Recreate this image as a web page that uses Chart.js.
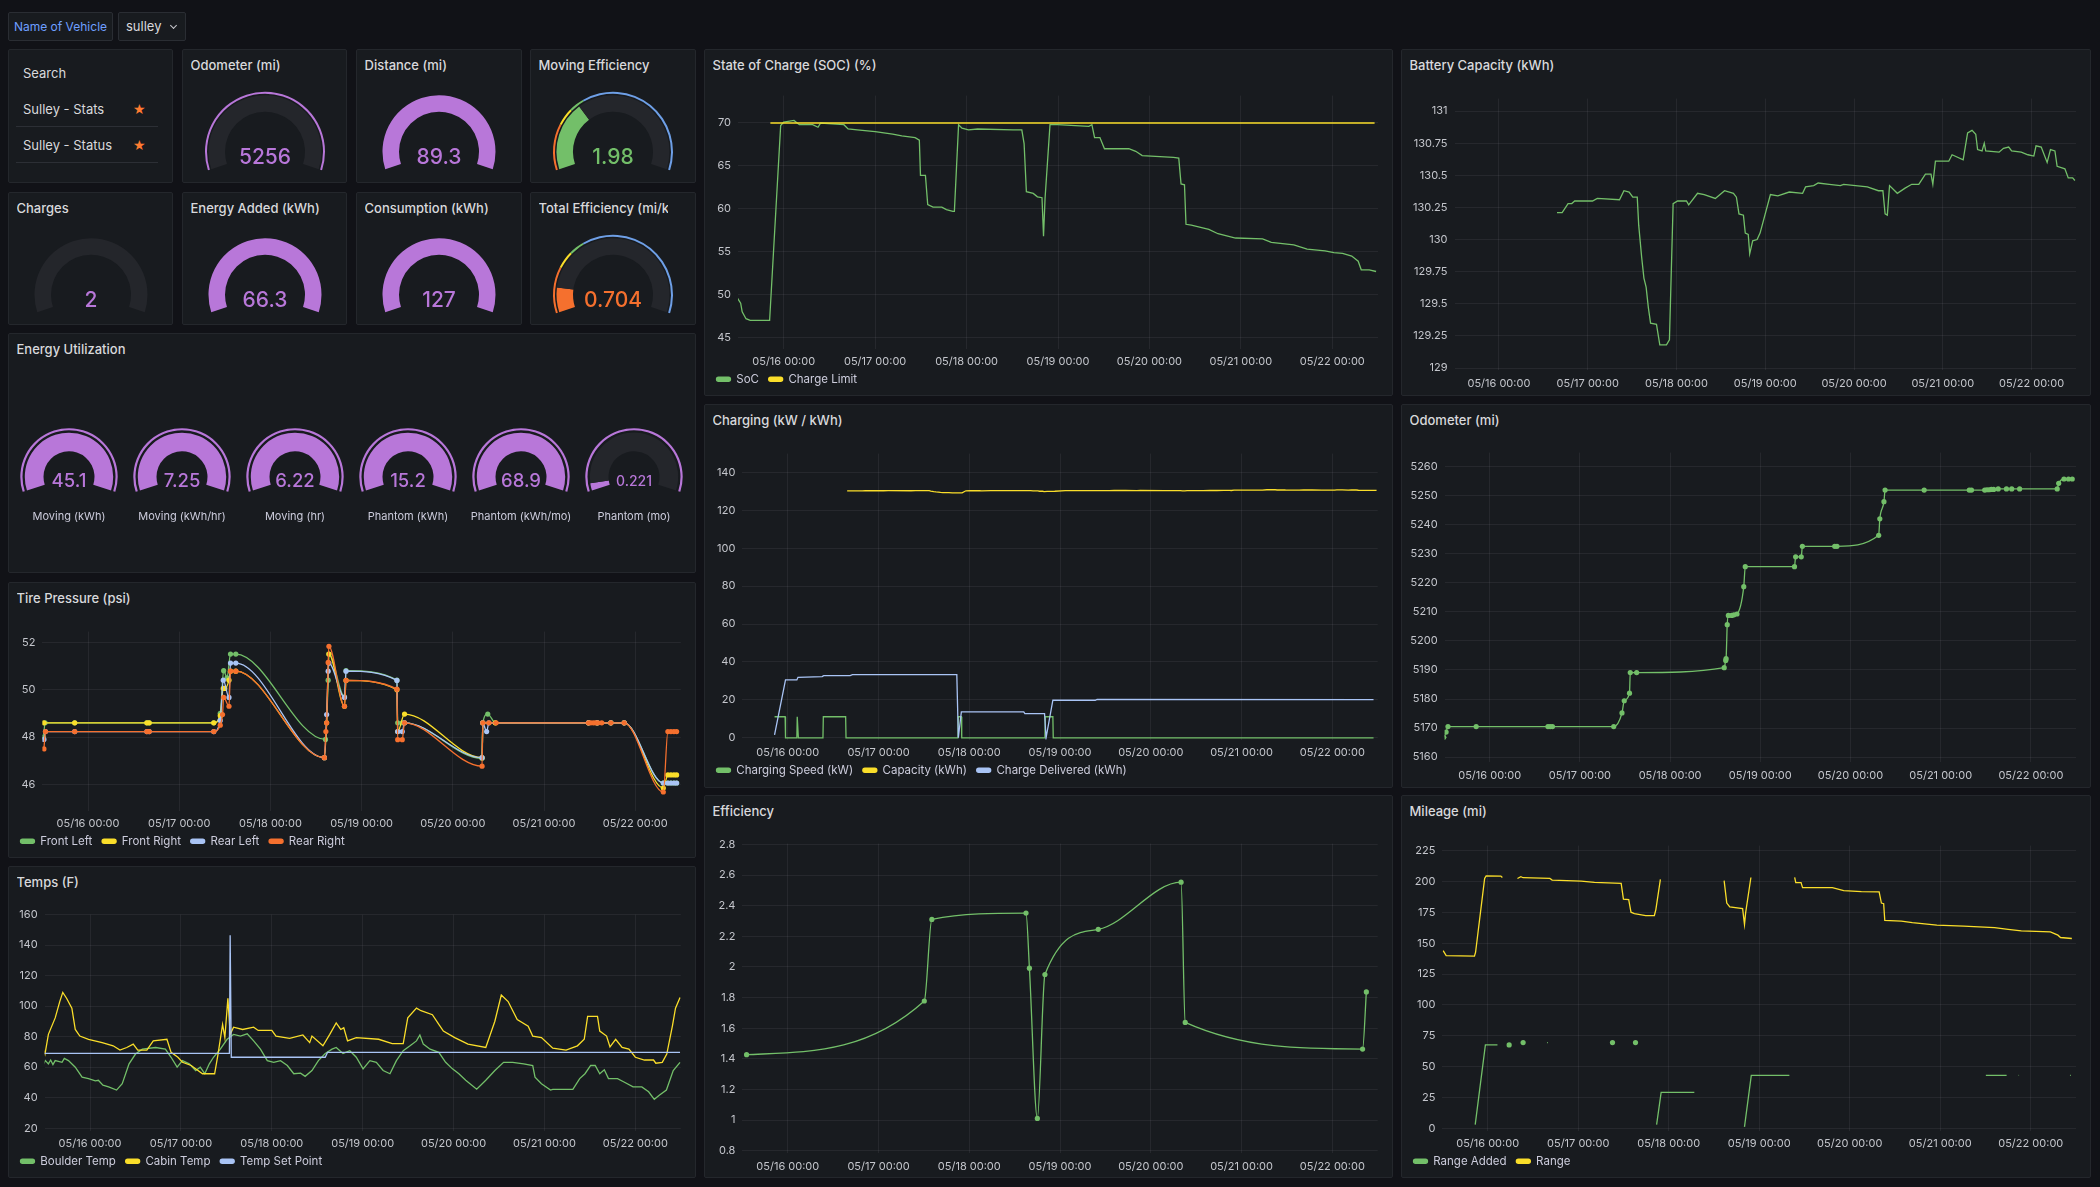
<!DOCTYPE html>
<html>
<head>
<meta charset="utf-8">
<title>Sulley - Stats</title>
<script src="https://cdn.jsdelivr.net/npm/chart.js@4.4.1/dist/chart.umd.min.js"></script>
<style>
html, body { margin: 0; padding: 0; background: #111217; }
#dash { position: relative; width: 2100px; height: 1187px; overflow: hidden; font-family: Inter, "Noto Sans", sans-serif; }
.panel { position: absolute; box-sizing: border-box; background: #181b1f; border: 1px solid #24272c; border-radius: 2px; }
.ptitle { position: absolute; left: 7.5px; top: 7px; font-size: 13px; font-weight: 500; line-height: 16px; color: #d8d9dc; white-space: nowrap; overflow: hidden; }
.ctl { position: absolute; box-sizing: border-box; background: #181b1f; border: 1px solid #2a2d33; border-radius: 2px; line-height: 27px; }
.txt { position: absolute; font-size: 13px; line-height: 16px; color: #d8d9dc; white-space: nowrap; }
.star { position: absolute; color: #ff7b31; font-size: 14px; line-height: 16px; font-family: "DejaVu Sans", sans-serif; }
.rule { position: absolute; height: 1px; background: #2c2f35; }
canvas { position: absolute; }
</style>
</head>
<body>
<div id="dash"></div>
<script>
// ---- time axis ----
const xMin = -12, xMax = 156;            // hours from 05/16 00:00
const dayTicks = [0, 24, 48, 72, 96, 120, 144];
const dayLabels = ["05/16 00:00", "05/17 00:00", "05/18 00:00", "05/19 00:00", "05/20 00:00", "05/21 00:00", "05/22 00:00"];

// ---- stat gauges ----
const statTitles = ["Odometer (mi)", "Distance (mi)", "Moving Efficiency", "Charges", "Energy Added (kWh)", "Consumption (kWh)", "Total Efficiency (mi/kWh)"];
const statValues = [5256, 89.3, 1.98, 2, 66.3, 127, 0.704];
const statMin = [6000, 0, 0, 10, 0, 0, 0];
const statMax = [10000, 89.3, 6, 20, 66.3, 127, 6];
const effThresholds = [0.21, 0.08, 0.07, 0.64];

const energyLabels = ["Moving (kWh)", "Moving (kWh/hr)", "Moving (hr)", "Phantom (kWh)", "Phantom (kWh/mo)", "Phantom (mo)"];
const energyValues = [45.1, 7.25, 6.22, 15.2, 68.9, 0.221];
const energyMax = [45.1, 7.25, 6.22, 15.2, 68.9, 5];

// ---- state of charge ----
const socHours = [-12.3, -11.3, -10.9, -9.9, -8.8, -3.7, -0.8, 0, 2.7, 4.1, 7.6, 9.0, 9.7, 15.8, 16.9, 19.3, 24, 28.6, 31, 34.5, 35.6, 35.9, 37.2, 37.8, 39.2, 41.5, 42.7, 44.4, 44.8, 45.9, 46.8, 48.5, 50.9, 60.2, 62.5, 63.1, 63.7, 65.5, 66.6, 67.8, 68.2, 68.6, 69.9, 71.9, 80.1, 80.9, 81.6, 83, 84.2, 90.6, 92.4, 94.1, 102.3, 103.7, 104.3, 105.2, 105.6, 107, 111.6, 114, 118.6, 125.7, 128, 133.9, 137.4, 142.1, 144.4, 146.7, 149.1, 150.8, 151.6, 153.7, 155.5];
const socValues = [49.7, 49.0, 48.0, 47.2, 47.0, 47.0, 69.7, 70.1, 70.3, 69.8, 69.8, 69.5, 70.0, 69.8, 69.3, 69.2, 69.0, 68.7, 68.5, 68.3, 68.0, 63.9, 63.9, 60.5, 60.2, 60.2, 59.9, 59.7, 59.7, 69.8, 69.4, 69.2, 69.3, 69.2, 69.2, 67.6, 62.0, 61.8, 61.4, 61.3, 56.8, 61.2, 69.8, 69.8, 69.6, 69.8, 68.3, 68.3, 67.0, 67.0, 66.7, 66.2, 66.0, 65.9, 62.9, 62.8, 58.2, 58.1, 57.6, 57.1, 56.6, 56.5, 56.1, 55.8, 55.3, 55.1, 54.9, 54.8, 54.5, 53.9, 52.9, 52.9, 52.7];
const limitHours = [-3.5, 155.1];
const limitValues = [70, 70];
const socTicks = [45, 50, 55, 60, 65, 70];

// ---- battery capacity ----
const battHours = [15.7, 17.1, 18.7, 19.7, 20.5, 25.3, 26.6, 32.6, 33.8, 35.2, 36.2, 37.4, 37.8, 38.6, 39.2, 39.8, 40.4, 41.0, 42.6, 43.5, 45.3, 46.1, 47.1, 48.3, 50.7, 51.3, 53.7, 55.5, 58.5, 61, 63.4, 64.2, 64.9, 66.1, 66.6, 67.4, 67.8, 68.6, 69.8, 70.6, 73.4, 75.4, 78.5, 82.1, 82.9, 85.1, 86.3, 89.3, 92.3, 93.2, 99.6, 102.6, 103.8, 104.4, 105.0, 105.6, 107.7, 109.8, 111.6, 113.5, 115.3, 116.8, 117.3, 118.0, 121.6, 122.5, 125.5, 126.7, 127.9, 128.9, 129.4, 130.6, 131.2, 131.6, 135.2, 136.4, 137.8, 138.6, 141.2, 143, 144.6, 145.2, 146.6, 148.2, 149.1, 150.3, 150.9, 153.0, 153.9, 155.1, 155.7];
const battValues = [130.21, 130.21, 130.28, 130.28, 130.30, 130.30, 130.32, 130.31, 130.38, 130.37, 130.33, 130.33, 130.11, 129.86, 129.70, 129.63, 129.47, 129.35, 129.34, 129.18, 129.18, 129.22, 130.28, 130.30, 130.30, 130.27, 130.36, 130.35, 130.32, 130.38, 130.36, 130.33, 130.20, 130.19, 130.05, 130.04, 129.89, 129.99, 130.00, 130.05, 130.35, 130.34, 130.37, 130.36, 130.41, 130.42, 130.44, 130.43, 130.42, 130.43, 130.41, 130.38, 130.38, 130.20, 130.19, 130.42, 130.36, 130.40, 130.43, 130.43, 130.51, 130.51, 130.43, 130.61, 130.61, 130.66, 130.62, 130.83, 130.85, 130.82, 130.70, 130.69, 130.75, 130.69, 130.68, 130.71, 130.72, 130.69, 130.68, 130.66, 130.65, 130.73, 130.72, 130.60, 130.70, 130.69, 130.57, 130.55, 130.48, 130.48, 130.46];
const battTicks = [129, 129.25, 129.5, 129.75, 130, 130.25, 130.5, 130.75, 131];

// ---- charging ----
const speedHours = [-3.5, -0.7, -0.6, 2.4, 2.5, 2.7, 2.8, 9.3, 9.4, 15.3, 15.4, 45.0, 45.1, 45.9, 46.0, 68.0, 68.1, 70.1, 70.2, 154.9];
const speedValues = [11.1, 11.1, 0, 0, 11.1, 11.1, 0, 0, 11.1, 11.1, 0, 0, 11.1, 11.1, 0, 0, 11.1, 11.1, 0, 0];
const deliveredHours = [-3.5, -0.6, 2.4, 2.7, 9.1, 9.5, 16.5, 17.1, 44.7, 45.1, 45.9, 62.4, 62.7, 67.9, 68.3, 70.1, 81.3, 81.8, 154.9];
const deliveredValues = [1.6, 30.5, 30.5, 31.9, 32.3, 32.8, 32.8, 33.3, 33.3, 0, 13.7, 13.7, 12.8, 12.8, 0, 19.8, 19.8, 20.3, 20.1];
const chargingTicks = [0, 20, 40, 60, 80, 100, 120, 140];

// ---- efficiency ----
const effHours = [-10.9, 36.1, 38.1, 63.0, 63.9, 66.0, 68.0, 82.1, 104.0, 105.1, 152.0, 153.0];
const effValues = [1.427, 1.778, 2.311, 2.352, 1.992, 1.011, 1.951, 2.246, 2.554, 1.638, 1.464, 1.837];
const effTicks = [0.8, 1, 1.2, 1.4, 1.6, 1.8, 2, 2.2, 2.4, 2.6, 2.8];

// ---- odometer ----
const odoHours = [-12.2, -11.6, -11.1, -3.6, 15.5, 16.1, 16.7, 33.0, 35.2, 35.8, 37.2, 37.4, 39.1, 62.4, 62.8, 62.9, 63.2, 63.5, 64.4, 65.0, 65.8, 67.6, 68.0, 81.1, 81.4, 82.9, 83.2, 91.8, 92.4, 103.5, 103.8, 104.9, 105.2, 115.6, 127.6, 128.2, 131.7, 132.3, 132.9, 133.5, 134.1, 135.3, 137.5, 138.9, 141.0, 151.0, 151.4, 152.8, 154.0, 155.0];
const odoValues = [5166.8, 5168.6, 5170.5, 5170.5, 5170.5, 5170.5, 5170.5, 5170.5, 5175.2, 5179.4, 5182.0, 5189.1, 5189.1, 5190.8, 5193.3, 5193.9, 5205.6, 5208.8, 5208.8, 5209.0, 5209.3, 5218.7, 5225.6, 5225.6, 5229.0, 5229.0, 5232.6, 5232.6, 5232.6, 5236.4, 5242.1, 5248.0, 5252.0, 5252.0, 5252.0, 5252.0, 5252.0, 5252.1, 5252.1, 5252.2, 5252.2, 5252.4, 5252.4, 5252.4, 5252.4, 5252.4, 5254.3, 5255.8, 5255.8, 5255.8];
const odoTicks = [5160, 5170, 5180, 5190, 5200, 5210, 5220, 5230, 5240, 5250, 5260];

// ---- mileage ----
const rangeHours = [-11.8, -11.0, -3.5, -3.2, -0.8, -0.4, 3.5, 3.9, 5.9, 7.9, 8.8, 9.4, 16.5, 17.1, 24.8, 28.3, 35.4, 36.0, 37.4, 38.0, 38.9, 41.9, 44.2, 44.6, 45.8, 54, 62.7, 63.4, 64.2, 67.6, 68.1, 68.4, 69.8, 75, 81.4, 81.7, 83.1, 83.5, 91.4, 94.4, 99.1, 103.8, 104.4, 105.0, 105.3, 109.7, 112.6, 119.1, 126.2, 134.4, 138.0, 141.5, 149.2, 151.2, 151.9, 154.9];
const rangeValues = [144.0, 140.0, 139.5, 142.7, 202.4, 204.5, 204.3, 203.2, null, 202.4, 203.8, 203.0, 202.4, 201.1, 200.3, 199.2, 198.4, 185.7, 185.2, 175.1, 174.0, 172.4, 172.4, 177.2, 201.6, null, 200.6, 182.5, 179.3, 178.0, 165.2, 174.5, 203.2, null, 203.2, 199.0, 199.0, 195.0, 195.0, 192.6, 191.8, 191.5, 182.5, 182.0, 168.4, 167.9, 166.6, 164.7, 163.9, 162.6, 161.2, 159.9, 159.1, 156.5, 154.6, 153.8];
const addedHours = [-3.3, -0.6, 0, 2.6, 4, 5.7, 7, 9.4, 12, 15.8, 16.0, 20, 33.1, 36, 39.2, 42, 44.8, 46.0, 54.8, 60, 68.1, 69.9, 80.0, 100, 132.1, 137.6, 139, 140.8, 140.9, 148, 154.4, 154.6];
const addedValues = [3.2, 67.7, 67.7, 67.7, null, 67.7, null, 69.6, null, 69.6, 69.6, null, 69.6, null, 69.6, null, 3.2, 29.2, 29.2, null, 1.3, 43.0, 43.0, null, 43.0, 43.0, null, 43.0, 43.0, null, 43.0, 43.0];
const mileageTicks = [0, 25, 50, 75, 100, 125, 150, 175, 200, 225];

// ---- tire pressure ----
const flHours = [-11.7, -11.3, -3.5, 15.5, 16.1, 33.1, 34.8, 35.7, 36.6, 37.5, 38.9, 62.5, 63.2, 63.4, 67.5, 67.9, 81.3, 81.5, 82.7, 83.3, 103.7, 103.9, 105.2, 107.2, 131.7, 134.0, 137.6, 141.1, 151.4, 152.6, 153.4, 154.2, 154.9];
const flValues = [48.0, 48.6, 48.6, 48.6, 48.6, 48.6, 49.0, 50.8, 50.5, 51.5, 51.5, 47.9, 50.4, 51.5, 49.7, 50.8, 50.4, 48.6, 48.6, 48.6, 47.1, 48.6, 48.97, 48.6, 48.6, 48.6, 48.6, 48.6, 46.06, 46.06, 46.06, 46.06, 46.06];
const frHours = [-11.6, -3.5, 15.5, 16.1, 33.1, 34.8, 35.6, 36.0, 37.1, 37.5, 38.9, 62.2, 62.8, 63.4, 67.5, 67.9, 81.3, 81.5, 83.3, 103.7, 103.9, 107.2, 131.7, 134.0, 137.6, 141.1, 151.4, 152.6, 153.4, 154.2, 154.9];
const frValues = [48.6, 48.6, 48.6, 48.6, 48.6, 48.9, 50.05, 50.05, 50.4, 50.78, 50.78, 47.13, 48.6, 51.5, 49.3, 50.39, 50.0, 48.23, 48.97, 47.13, 48.6, 48.6, 48.6, 48.6, 48.6, 48.6, 45.85, 46.4, 46.4, 46.4, 46.4];
const rlHours = [-11.6, -11.2, -3.5, 15.5, 16.1, 33.1, 34.8, 35.6, 37.1, 37.5, 38.9, 62.2, 62.8, 63.2, 63.4, 67.5, 67.9, 81.3, 81.5, 82.7, 83.3, 103.7, 103.9, 104.9, 105.5, 131.7, 134.0, 137.6, 141.1, 151.4, 152.6, 153.4, 154.2, 154.9];
const rlValues = [47.9, 48.23, 48.23, 48.23, 48.23, 48.23, 48.7, 50.4, 49.67, 51.12, 51.12, 47.13, 48.95, 50.78, 51.12, 49.67, 50.78, 50.39, 48.23, 48.23, 48.6, 47.13, 48.6, 48.23, 48.6, 48.6, 48.6, 48.6, 48.6, 46.06, 46.06, 46.06, 46.06, 46.06];
const rrHours = [-11.6, -11.2, -3.5, 15.5, 16.1, 33.1, 34.8, 35.4, 35.7, 37.1, 37.5, 38.9, 62.2, 62.6, 62.8, 63.2, 63.4, 67.5, 67.9, 81.3, 81.5, 82.7, 83.3, 103.7, 103.9, 105.5, 107.4, 131.7, 132.3, 133.0, 133.6, 134.2, 135.2, 137.6, 141.1, 151.4, 152.6, 153.4, 154.2, 154.9];
const rrValues = [47.5, 48.23, 48.23, 48.23, 48.23, 48.23, 48.5, 48.95, 49.67, 49.3, 50.78, 50.78, 47.13, 48.23, 48.6, 51.15, 51.83, 49.3, 50.39, 50.02, 47.89, 47.89, 48.6, 46.77, 48.6, 48.6, 48.6, 48.6, 48.6, 48.6, 48.6, 48.6, 48.6, 48.6, 48.6, 45.68, 48.23, 48.23, 48.23, 48.23];
const tireTicks = [46, 48, 50, 52];

// ---- temps ----
const boulderHours = [-12.5, -11.8, -11.0, -10.4, -9.8, -9.2, -7.4, -6.8, -5.7, -3.9, -2.1, -0.4, 1.4, 2.2, 3.4, 4.9, 7.0, 8.5, 10.3, 12.0, 13.8, 17.3, 19.9, 21.4, 23.0, 24.4, 26.2, 27.9, 29.1, 30.3, 31.5, 32.6, 34.4, 36.2, 37.9, 39.7, 41.5, 43.2, 45.0, 46.8, 48.5, 50.3, 52.1, 53.8, 55.6, 56.8, 58.6, 60.3, 62.1, 63.9, 65.0, 66.8, 68.6, 70.3, 72.1, 73.9, 75.6, 77.4, 79.2, 80.9, 82.7, 84.5, 86.2, 87.1, 88.0, 89.8, 92.1, 93.9, 95.7, 97.4, 99.2, 102.1, 104.5, 106.9, 109.2, 111.6, 114.5, 116.9, 117.5, 119.2, 121.6, 122.2, 127.5, 129.3, 130.7, 132.2, 133.4, 134.6, 135.8, 136.9, 139.3, 141.0, 143.4, 145.7, 147.5, 149.0, 150.4, 152.2, 154.0, 155.8];
const boulderValues = [61.1, 64.3, 62.2, 64.7, 61.7, 64.3, 63.2, 65.8, 64.3, 60.0, 53.5, 52.5, 51.0, 51.4, 48.2, 47.1, 45.0, 49.2, 62.2, 68.6, 71.8, 72.9, 71.8, 66.5, 60.0, 64.3, 62.2, 57.8, 60.0, 55.7, 62.2, 66.5, 71.8, 78.3, 81.5, 80.4, 81.9, 77.2, 71.8, 64.3, 63.2, 64.3, 61.1, 55.7, 56.1, 54.0, 57.8, 64.3, 69.0, 71.8, 72.9, 69.0, 70.8, 66.5, 58.9, 64.3, 63.2, 57.8, 55.7, 64.3, 70.8, 74.0, 77.2, 81.1, 75.1, 71.8, 69.7, 63.2, 58.9, 55.7, 51.4, 45.6, 51.4, 57.8, 63.2, 63.2, 62.2, 61.1, 53.5, 49.2, 45.0, 45.4, 45.4, 52.5, 55.7, 61.1, 61.1, 55.7, 58.3, 52.5, 52.5, 50.3, 47.1, 47.1, 43.9, 38.9, 41.7, 45.0, 57.8, 63.2];
const cabinHours = [-12.5, -11.9, -11.0, -9.2, -8.0, -7.2, -6.2, -4.8, -3.9, -2.7, -0.4, 3.2, 6.1, 7.9, 9.7, 11.4, 12.6, 15.0, 16.7, 20.3, 21.4, 23.2, 24.4, 26.7, 29.7, 31.5, 32.9, 33.8, 35.0, 35.6, 36.4, 37.0, 37.9, 40.3, 43.2, 44.4, 48.0, 49.1, 52.7, 56.2, 58.0, 58.6, 61.5, 63.3, 65.0, 66.2, 67.0, 68.0, 70.3, 76.2, 79.8, 82.7, 83.9, 86.2, 87.4, 90.4, 92.1, 93.3, 96.3, 99.8, 104.5, 106.9, 108.6, 110.4, 112.8, 115.7, 116.9, 119.2, 122.2, 125.7, 128.7, 130.5, 131.4, 134.0, 134.6, 136.4, 137.3, 138.8, 140.5, 142.3, 144.0, 146.4, 148.8, 149.4, 151.1, 152.3, 153.8, 154.6, 155.8];
const cabinValues = [72.9, 68.6, 81.5, 92.3, 103.0, 109.0, 105.2, 98.7, 84.7, 80.4, 78.3, 76.1, 74.0, 71.2, 72.9, 75.1, 71.2, 71.2, 77.2, 78.3, 69.7, 66.5, 63.2, 61.1, 55.7, 55.7, 55.7, 68.6, 88.0, 79.4, 105.2, 81.5, 86.2, 84.7, 86.2, 84.1, 84.1, 80.4, 78.9, 81.1, 76.1, 80.4, 74.0, 81.5, 89.0, 84.7, 85.8, 77.2, 79.4, 78.3, 75.5, 75.5, 92.3, 98.7, 97.0, 94.4, 88.0, 83.7, 79.4, 75.1, 72.9, 90.1, 107.3, 103.0, 91.2, 86.9, 80.4, 79.4, 72.5, 71.2, 74.0, 78.3, 93.3, 93.3, 83.7, 80.4, 73.3, 78.3, 72.9, 71.8, 66.5, 64.7, 64.7, 62.6, 63.2, 68.6, 87.3, 98.7, 105.6];
const setHours = [-12.1, 36.8, 37.0, 37.3, 62.1, 62.7, 155.8];
const setValues = [69.0, 69.0, 146.5, 66.5, 66.5, 69.7, 69.7];
const tempTicks = [20, 40, 60, 80, 100, 120, 140, 160];

// ---- look ----
const GREEN = "#73bf69", YELLOW = "#fade2a", LBLUE = "#a9c4f5", ORANGE = "#f5702e", PURPLE = "#b877d9", BLUE = "#6e9fe6";
const TRACK = "#24262b", GRID = "rgba(204,204,220,0.08)";

Chart.defaults.font.family = "Inter, 'Noto Sans', sans-serif";
Chart.defaults.font.size = 11;
Chart.defaults.color = "#c4c6cc";
Chart.defaults.animation = false;
Chart.defaults.responsive = false;
Chart.defaults.events = [];

const dash = document.getElementById("dash");

function el(cls, x, y, w, h, parent) {
    const d = document.createElement("div");
    d.className = cls;
    d.style.left = x + "px";
    d.style.top = y + "px";
    if (w != null) d.style.width = w + "px";
    if (h != null) d.style.height = h + "px";
    (parent || dash).appendChild(d);
    return d;
}

function panel(rect, title, clip) {
    const [x, y, w, h] = rect;
    const p = el("panel", x, y, w, h);
    if (title) {
        const t = el("ptitle", 7.5, 7, w - (clip || 26), null, p);
        t.textContent = title;
    }
    return p;
}

function canvasAt(x, y, w, h) {
    const c = document.createElement("canvas");
    c.width = w;
    c.height = h;
    c.style.left = x + "px";
    c.style.top = y + "px";
    dash.appendChild(c);
    return c;
}

function series(label, hours, values, color, extra) {
    return Object.assign({
        label: label,
        data: hours.map((h, i) => ({ x: h, y: values[i] })),
        borderColor: color,
        backgroundColor: color,
        borderWidth: 1.3,
        pointRadius: 0,
        pointBorderWidth: 0,
        tension: 0,
        fill: false
    }, extra || {});
}

const legendItems = chart => Chart.defaults.plugins.legend.labels.generateLabels(chart)
    .map(l => Object.assign(l, { text: l.text + "\u2002" }));

function timeChart(rect, plot, yRange, yTicks, datasets, withLegend) {
    const [px, py, pw, ph] = rect;
    const [pl, pr, pt, pb] = plot;
    const left = px + 1, width = pw - 2;
    const top = Math.round(pt) - 10;
    const height = Math.round(pb) - top + 21 + (withLegend ? 25 : 0);
    const yWidth = pl - left - 7.5;
    new Chart(canvasAt(left, top, width, height), {
        type: "line",
        data: { datasets: datasets },
        options: {
            layout: { padding: { left: 7.5, top: 10, right: left + width - pr, bottom: 0 } },
            scales: {
                x: {
                    type: "linear", min: xMin, max: xMax,
                    afterBuildTicks: s => { s.ticks = dayTicks.map(v => ({ value: v })); },
                    afterFit: s => { s.height = 21; },
                    ticks: { autoSkip: false, maxRotation: 0, padding: 7, callback: (v, i) => dayLabels[i] },
                    grid: { color: GRID, drawTicks: false },
                    border: { display: false }
                },
                y: {
                    min: yRange[0], max: yRange[1],
                    afterBuildTicks: s => { s.ticks = yTicks.map(v => ({ value: v })); },
                    afterFit: s => { s.width = yWidth; },
                    ticks: { padding: 7, callback: v => String(v) },
                    grid: { color: GRID, drawTicks: false },
                    border: { display: false }
                }
            },
            plugins: {
                tooltip: { enabled: false },
                legend: withLegend ? {
                    position: "bottom", align: "start",
                    labels: {
                        boxWidth: 14, boxHeight: 4, padding: 4, color: "#ccccdc",
                        font: { size: 11.5 }, useBorderRadius: true, borderRadius: 2,
                        generateLabels: legendItems,
                        sort: (a, b) => a.datasetIndex - b.datasetIndex
                    }
                } : { display: false }
            }
        }
    });
}

// text in the middle of a gauge
const gaugeText = {
    id: "gaugeText",
    afterDraw(chart, args, o) {
        const arc = chart.getDatasetMeta(0).data[0];
        const ctx = chart.ctx;
        ctx.save();
        ctx.textAlign = "center";
        ctx.textBaseline = "middle";
        ctx.font = "500 " + o.size + "px Inter";
        ctx.fillStyle = o.color;
        ctx.fillText(o.text, arc.x, arc.y + o.dy);
        if (o.label) {
            ctx.font = "11px Inter";
            ctx.fillStyle = "#ccccdc";
            ctx.fillText(o.label, arc.x, arc.y + 40);
        }
        ctx.restore();
    }
};

const ARC = 216;
function gauge(g) {
    const W = Math.ceil(2 * g.r + 4);
    const left = Math.round(g.cx - W / 2);
    const top = Math.round(g.cy - g.H / 2 - 0.3455 * g.r);
    const band = g.r - g.ringW - g.gapW - g.inner;
    const fill = Math.max(0, Math.min(1, (g.value - g.min) / (g.max - g.min)));
    new Chart(canvasAt(left, top, W, g.H), {
        type: "doughnut",
        data: {
            datasets: [
                { data: g.ringData, backgroundColor: g.ringColors, weight: g.ringW, borderWidth: 0 },
                { data: [1], backgroundColor: ["rgba(0,0,0,0)"], weight: g.gapW, borderWidth: 0 },
                { data: [fill, 1 - fill], backgroundColor: [g.color, TRACK], weight: band, borderWidth: 0 }
            ]
        },
        options: {
            rotation: -ARC / 2,
            circumference: ARC,
            radius: g.r,
            cutout: (g.inner / g.r * 100) + "%",
            plugins: {
                legend: { display: false },
                tooltip: { enabled: false },
                gaugeText: { text: String(g.value), color: g.textColor || g.color, size: g.size, dy: g.dy, label: g.label }
            }
        },
        plugins: [gaugeText]
    });
}

// ---- header ----
const name = el("ctl", 8, 12, 105, 29);
name.style.color = "#6e9fff";
name.style.fontSize = "12px";
name.style.textAlign = "center";
name.textContent = "Name of Vehicle";
const pick = el("ctl", 118, 12, 68, 29);
pick.style.color = "#d8d9dc";
pick.style.fontSize = "13px";
pick.style.paddingLeft = "7px";
pick.textContent = "sulley";
const chev = el("", 52, 10, 4, 4, pick);
chev.style.position = "absolute";
chev.style.borderRight = "1.3px solid #c8c9cf";
chev.style.borderBottom = "1.3px solid #c8c9cf";
chev.style.transform = "rotate(45deg)";

// ---- layout ----
const P = {
    search: [8, 49, 165, 134], odoStat: [182, 49, 165, 134], distStat: [356, 49, 166, 134], moveEff: [530, 49, 166, 134],
    charges: [8, 192, 165, 133], added: [182, 192, 165, 133], consumption: [356, 192, 166, 133], totalEff: [530, 192, 166, 133],
    energy: [8, 333, 688, 240], tire: [8, 582, 688, 276], temps: [8, 866, 688, 312],
    soc: [704, 49, 689, 347], charging: [704, 404, 689, 384], efficiency: [704, 795, 689, 383],
    battery: [1401, 49, 690, 347], odometer: [1401, 404, 690, 384], mileage: [1401, 795, 690, 383]
};

// search panel
const sp = panel(P.search, null);
el("txt", 14, 15, null, null, sp).textContent = "Search";
el("txt", 14, 51, null, null, sp).textContent = "Sulley - Stats";
el("star", 124, 51, null, null, sp).textContent = "\u2605";
el("rule", 7, 76, 142, null, sp);
el("txt", 14, 87, null, null, sp).textContent = "Sulley - Status";
el("star", 124, 87, null, null, sp).textContent = "\u2605";
el("rule", 7, 112, 142, null, sp);

// stat gauges
const statRects = [P.odoStat, P.distStat, P.moveEff, P.charges, P.added, P.consumption, P.totalEff];
const none = "rgba(0,0,0,0)";
const effRing = [ORANGE, YELLOW, GREEN, BLUE];
statRects.forEach((r, i) => {
    panel(r, statTitles[i], i === 6 ? 37 : 26);
    const isEff = i === 2 || i === 6;
    const ringed = i === 0 || isEff;
    const color = i === 2 ? GREEN : (i === 6 ? ORANGE : PURPLE);
    gauge({
        cx: r[0] + r[2] / 2, cy: i < 3 ? 151.5 : 294.5, r: 60, inner: 40, ringW: 2, gapW: 1.5, H: 84,
        ringData: isEff ? effThresholds : [1], ringColors: isEff ? effRing : [ringed ? PURPLE : none],
        value: statValues[i], min: statMin[i], max: statMax[i], color: color, size: 21, dy: 6
    });
});

// energy utilization
panel(P.energy, "Energy Utilization");
const energyX = [69, 181.7, 294.6, 408, 521.4, 634];
energyValues.forEach((v, i) => {
    gauge({
        cx: energyX[i], cy: 477, r: 48.7, inner: 25.5, ringW: 2.2, gapW: 2.3, H: 130,
        ringData: [1], ringColors: [PURPLE],
        value: v, min: 0, max: energyMax[i], color: PURPLE, size: i === 5 ? 14 : 18.5, dy: 5,
        label: energyLabels[i]
    });
});

// time series panels
const smooth = { cubicInterpolationMode: "monotone", pointRadius: 2.6 };

panel(P.tire, "Tire Pressure (psi)");
timeChart(P.tire, [42.4, 680.8, 628.3, 811.3], [44.9, 52.45], tireTicks, [
    series("Front Left", flHours, flValues, GREEN, Object.assign({ order: 4 }, smooth)),
    series("Front Right", frHours, frValues, YELLOW, Object.assign({ order: 3 }, smooth)),
    series("Rear Left", rlHours, rlValues, LBLUE, Object.assign({ order: 2 }, smooth)),
    series("Rear Right", rrHours, rrValues, ORANGE, Object.assign({ order: 1 }, smooth))
], true);

panel(P.temps, "Temps (F)");
timeChart(P.temps, [44.6, 680.8, 910.7, 1131], [18.5, 160], tempTicks, [
    series("Boulder Temp", boulderHours, boulderValues, GREEN, { order: 3 }),
    series("Cabin Temp", cabinHours, cabinValues, YELLOW, { order: 2 }),
    series("Temp Set Point", setHours, setValues, LBLUE, { order: 1 })
], true);

panel(P.soc, "State of Charge (SOC) (%)");
timeChart(P.soc, [738, 1378, 92, 348.7], [43.73, 73.19], socTicks, [
    series("SoC", socHours, socValues, GREEN, { order: 2 }),
    series("Charge Limit", limitHours, limitValues, YELLOW, { order: 1 })
], true);

panel(P.charging, "Charging (kW / kWh)");
timeChart(P.charging, [742.4, 1377.7, 450, 739.7], [-0.9, 149.9], chargingTicks, [
    series("Charging Speed (kW)", speedHours, speedValues, GREEN, { order: 3 }),
    series("Capacity (kWh)", battHours, battValues, YELLOW, { order: 2 }),
    series("Charge Delivered (kWh)", deliveredHours, deliveredValues, LBLUE, { order: 1 })
], true);

panel(P.efficiency, "Efficiency");
timeChart(P.efficiency, [742.4, 1377.7, 840, 1152.7], [0.785, 2.806], effTicks, [
    series("Efficiency", effHours, effValues, GREEN, smooth)
], false);

panel(P.battery, "Battery Capacity (kWh)");
timeChart(P.battery, [1454.5, 2076, 95, 370.3], [128.985, 131.097], battTicks, [
    series("Battery Capacity", battHours, battValues, GREEN)
], false);

panel(P.odometer, "Odometer (mi)");
timeChart(P.odometer, [1444.6, 2076, 449, 761.7], [5158.3, 5264.9], odoTicks, [
    series("Odometer", odoHours, odoValues, GREEN, smooth)
], false);

// a lone point between gaps is shown as a dot
const lonePoint = ctx => {
    const d = ctx.dataset.data, i = ctx.dataIndex;
    const prev = d[i - 1], next = d[i + 1];
    return (!prev || prev.y == null) && (!next || next.y == null) ? 2.6 : 0;
};
panel(P.mileage, "Mileage (mi)");
timeChart(P.mileage, [1442.4, 2076, 841.7, 1131], [-1.6, 229], mileageTicks, [
    series("Range Added", addedHours, addedValues, GREEN, { order: 2, pointRadius: lonePoint }),
    series("Range", rangeHours, rangeValues, YELLOW, { order: 1 })
], true);
</script>
</body>
</html>
